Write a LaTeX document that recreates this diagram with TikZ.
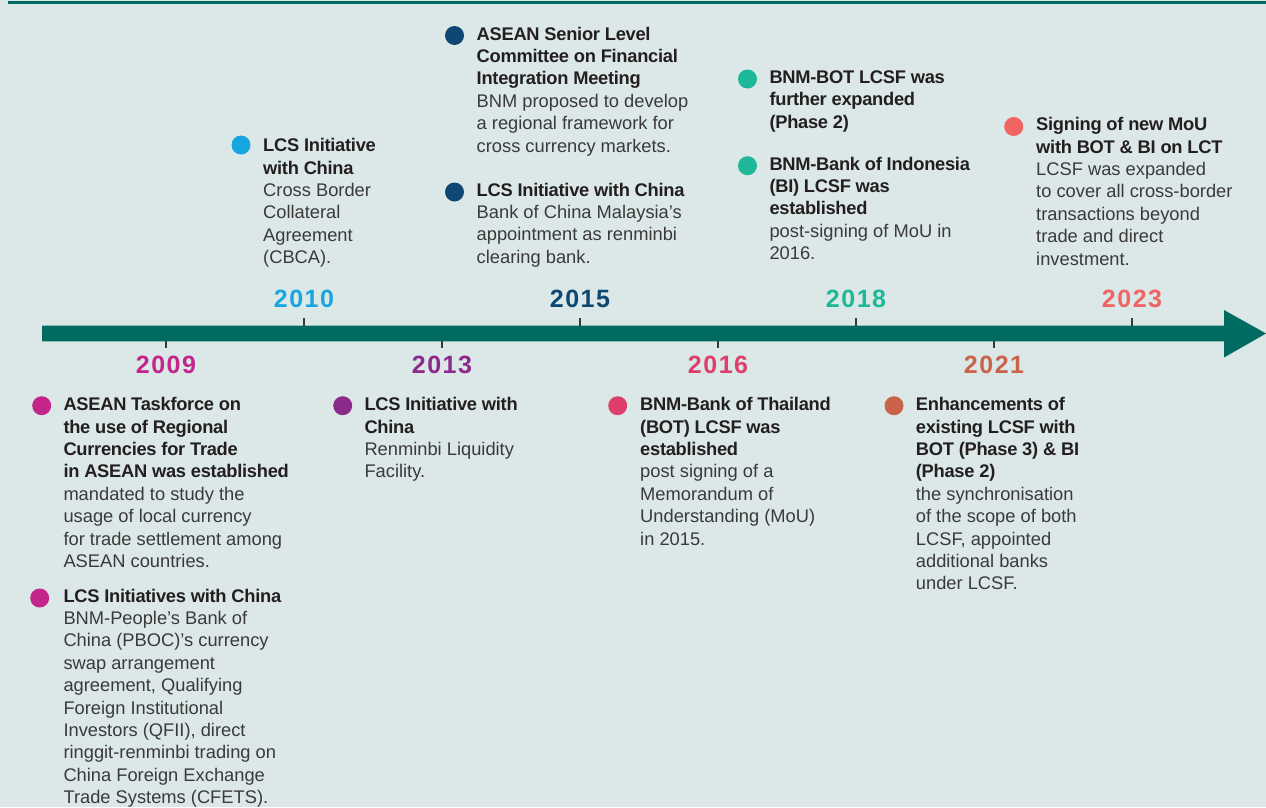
\documentclass[tikz,border=0pt]{standalone}
\usepackage{fontspec}
\setmainfont{Liberation Sans}[BoldFeatures={LetterSpace=-1.5}]
\newfontfamily\yearfont[LetterSpace=6]{Liberation Sans}

\definecolor{bgcol}{HTML}{DCE8E7}
\definecolor{barteal}{HTML}{006B61}
\definecolor{tickgray}{HTML}{3A3A3A}
\definecolor{txtdark}{HTML}{231F20}
\definecolor{txtgray}{HTML}{3A3A3A}
\definecolor{c09}{HTML}{C4258B}
\definecolor{c10}{HTML}{16A6E0}
\definecolor{c13}{HTML}{8C2A8C}
\definecolor{c15}{HTML}{0E4872}
\definecolor{c16}{HTML}{DE3E6B}
\definecolor{c18}{HTML}{1DB899}
\definecolor{c21}{HTML}{C9634A}
\definecolor{c23}{HTML}{F06464}

\tikzset{
  dot/.style={circle, inner sep=0pt, minimum size=19pt},
  evtxt/.style={inner sep=0pt, anchor=base west, text=txtgray, font=\fontsize{18.3}{22.4}\selectfont},
  year/.style={inner sep=0pt, font=\yearfont\bfseries\fontsize{25}{25}\selectfont},
  tick/.style={draw=tickgray, line width=1.2pt},
}

\newcommand{\evtext}[1]{\begin{tabular}[t]{@{}l@{}}#1\end{tabular}}
\newcommand{\hd}[1]{\textbf{\color{txtdark}#1}}

\begin{document}
\begin{tikzpicture}[x=1pt, y=-1pt]
    % Background
    \fill[bgcol] (0,0) rectangle (1266,807);
    \useasboundingbox (0,0) rectangle (1266,807);
    \fill[barteal] (8,1) rectangle (1266,3.5);

    % Timeline
    \fill[barteal] (42,325.5) -- (1224,325.5) -- (1224,310) -- (1266,333.5) -- (1224,357.5) -- (1224,341.3) -- (42,341.3) -- cycle;
    \foreach \x/\yr/\c in {304/2010/c10, 580/2015/c15, 856/2018/c18, 1132/2023/c23} {
        \draw[tick] (\x,325.5) -- (\x,318);
        \node[year, text=\c] (y\yr) at (\x,299) {\yr};
    }
    \foreach \x/\yr/\c in {166/2009/c09, 442/2013/c13, 718/2016/c16, 994/2021/c21} {
        \draw[tick] (\x,341.3) -- (\x,348.3);
        \node[year, text=\c] (y\yr) at (\x,365) {\yr};
    }

    % Events above
    \node[dot, fill=c10] (b10) at (241,145) {};
    \node[evtxt] (t10) at (263,151.7) {\evtext{\hd{LCS Initiative}\\ \hd{with China}\\ Cross Border\\ Collateral\\ Agreement\\ (CBCA).}};

    \node[dot, fill=c15] (b15a) at (454.5,35.5) {};
    \node[evtxt] (t15a) at (476.5,40) {\evtext{\hd{ASEAN Senior Level}\\ \hd{Committee on Financial}\\ \hd{Integration Meeting}\\ BNM proposed to develop\\ a regional framework for\\ cross currency markets.}};
    \node[dot, fill=c15] (b15b) at (454.5,192) {};
    \node[evtxt] (t15b) at (476.5,196) {\evtext{\hd{LCS Initiative with China}\\ Bank of China Malaysia’s\\ appointment as renminbi\\ clearing bank.}};

    \node[dot, fill=c18] (b18a) at (747.5,79) {};
    \node[evtxt] (t18a) at (769.3,83.3) {\evtext{\hd{BNM-BOT LCSF was}\\ \hd{further expanded}\\ \hd{(Phase 2)}}};
    \node[dot, fill=c18] (b18b) at (747.5,165.7) {};
    \node[evtxt] (t18b) at (769.3,170) {\evtext{\hd{BNM-Bank of Indonesia}\\ \hd{(BI) LCSF was}\\ \hd{established}\\ post-signing of MoU in\\ 2016.}};

    \node[dot, fill=c23] (b23) at (1013.7,126.5) {};
    \node[evtxt] (t23) at (1036,130.7) {\evtext{\hd{Signing of new MoU}\\ \hd{with BOT \& BI on LCT}\\ LCSF was expanded\\ to cover all cross-border\\ transactions beyond\\ trade and direct\\ investment.}};

    % Events below
    \node[dot, fill=c09] (b09a) at (41.7,405.7) {};
    \node[evtxt] (t09a) at (63.3,410.7) {\evtext{\hd{ASEAN Taskforce on}\\ \hd{the use of Regional}\\ \hd{Currencies for Trade}\\ \hd{in ASEAN was established}\\ mandated to study the\\ usage of local currency\\ for trade settlement among\\ ASEAN countries.}};
    \node[dot, fill=c09] (b09b) at (39.7,598) {};
    \node[evtxt] (t09b) at (63.3,602) {\evtext{\hd{LCS Initiatives with China}\\ BNM-People’s Bank of\\ China (PBOC)’s currency\\ swap arrangement\\ agreement, Qualifying\\ Foreign Institutional\\ Investors (QFII), direct\\ ringgit-renminbi trading on\\ China Foreign Exchange\\ Trade Systems (CFETS).}};

    \node[dot, fill=c13] (b13) at (342.7,405.7) {};
    \node[evtxt] (t13) at (364.3,410.7) {\evtext{\hd{LCS Initiative with}\\ \hd{China}\\ Renminbi Liquidity\\ Facility.}};

    \node[dot, fill=c16] (b16) at (617.7,405.7) {};
    \node[evtxt] (t16) at (640,410.7) {\evtext{\hd{BNM-Bank of Thailand}\\ \hd{(BOT) LCSF was}\\ \hd{established}\\ post signing of a\\ Memorandum of\\ Understanding (MoU)\\ in 2015.}};

    \node[dot, fill=c21] (b21) at (894,405.7) {};
    \node[evtxt] (t21) at (915.7,410.7) {\evtext{\hd{Enhancements of}\\ \hd{existing LCSF with}\\ \hd{BOT (Phase 3) \& BI}\\ \hd{(Phase 2)}\\ the synchronisation\\ of the scope of both\\ LCSF, appointed\\ additional banks\\ under LCSF.}};
\end{tikzpicture}
\end{document}
